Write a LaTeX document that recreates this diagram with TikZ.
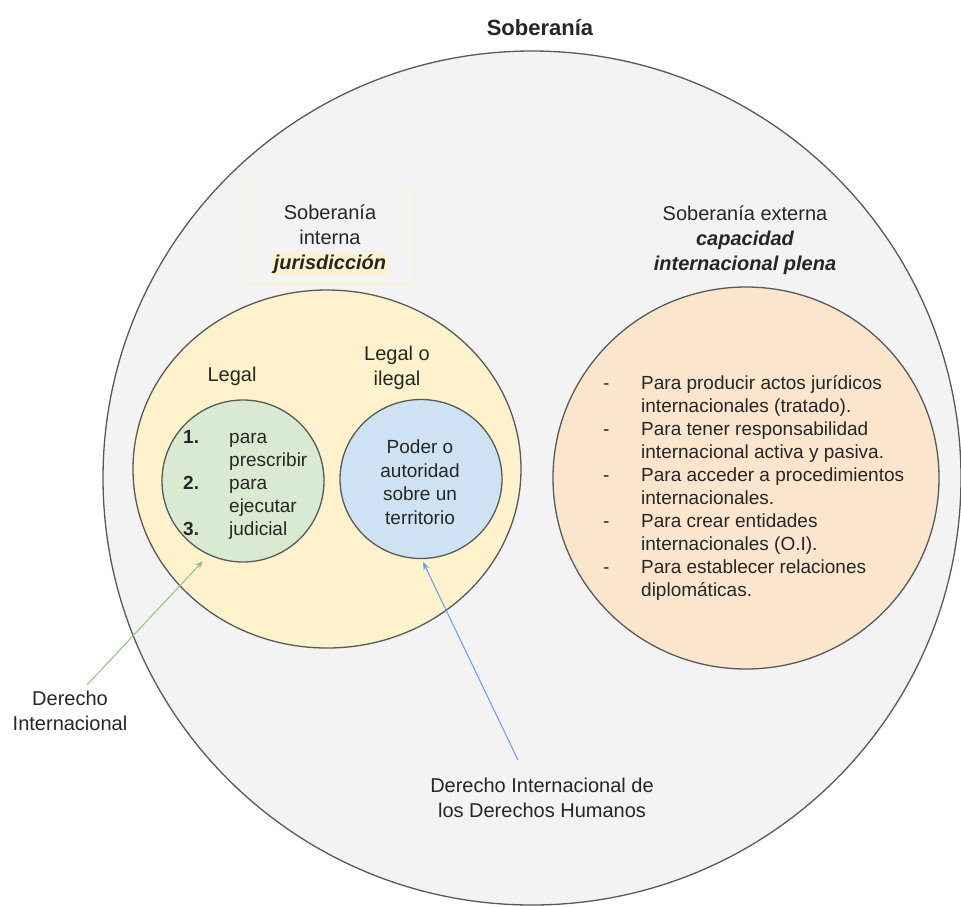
\documentclass[tikz,border=0pt]{standalone}
\usepackage{fontspec}
\setmainfont{Liberation Sans}
\usetikzlibrary{arrows.meta,shapes.geometric}
\definecolor{ringline}{HTML}{595959}
\definecolor{outerfill}{HTML}{F3F3F3}
\definecolor{yellowfill}{HTML}{FFF2CC}
\definecolor{greenfill}{HTML}{D9EAD3}
\definecolor{bluefill}{HTML}{CFE2F3}
\definecolor{orangefill}{HTML}{FCE5CD}
\definecolor{boxline}{HTML}{FBEFCB}
\definecolor{ink}{HTML}{262626}
\definecolor{greenarrow}{HTML}{93C47D}
\definecolor{bluearrow}{HTML}{6D9EEB}
\begin{document}
\begin{tikzpicture}[x=1pt,y=-1pt,
  region/.style={ellipse,draw=ringline,line width=1.3pt,inner sep=0pt},
  label/.style={text=ink,align=center,inner sep=0pt,font=\fontsize{20}{25}\selectfont},
  listtext/.style={text=ink,inner sep=0pt,font=\fontsize{19}{23}\selectfont},
  pointer/.style={line width=1pt,-{Stealth[length=8pt,width=6pt]}}]
\useasboundingbox[fill=white] (0,0) rectangle (961,906);

% title
\node[label,font=\fontsize{22}{26}\selectfont\bfseries] (title) at (540,28) {Soberanía};

% nested regions
\node[region,fill=outerfill,minimum width=858pt,minimum height=854pt] (outer) at (532,478) {};
\node[region,fill=yellowfill,minimum width=388pt,minimum height=358pt] (interna) at (327,469) {};
\node[region,fill=greenfill,minimum width=162pt,minimum height=162pt] (green) at (243,481) {};
\node[region,fill=bluefill,minimum width=162pt,minimum height=159pt] (blue) at (421,479) {};
\node[region,fill=orangefill,minimum width=386pt,minimum height=382pt] (externa) at (746,478) {};

% heading of the internal sovereignty
\node[draw=boxline,line width=1pt,minimum width=170pt,minimum height=99pt] (intbox) at (329,234.5) {};
\node[label] (inttext) at (330,240) {Soberanía\\interna\\{\setlength{\fboxsep}{2pt}\colorbox{yellowfill}{\bfseries\itshape jurisdicción}}};

% heading of the external sovereignty
\node[label] (exttext) at (745,240) {Soberanía externa\\{\bfseries\itshape capacidad}\\{\bfseries\itshape internacional plena}};

% labels inside the internal sovereignty
\node[label] (legal) at (232,376) {Legal};
\node[label] (legalo) at (397,368) {Legal o\\ilegal};

% green list
\node[listtext,anchor=west] (greenlist) at (183,485) {%
  \begin{tabular}{@{}p{46pt}@{}l@{}}
  \textbf{1.} & para\\
              & prescribir\\
  \textbf{2.} & para\\
              & ejecutar\\
  \textbf{3.} & judicial
  \end{tabular}};

% blue text
\node[label,font=\fontsize{19}{23.5}\selectfont] (bluetext) at (420,482) {Poder o\\autoridad\\sobre un\\territorio};

% orange list
\node[listtext,anchor=west] (orangelist) at (603,488) {%
  \begin{tabular}{@{}p{38pt}@{}l@{}}
  - & Para producir actos jurídicos\\
    & internacionales (tratado).\\
  - & Para tener responsabilidad\\
    & internacional activa y pasiva.\\
  - & Para acceder a procedimientos\\
    & internacionales.\\
  - & Para crear entidades\\
    & internacionales (O.I).\\
  - & Para establecer relaciones\\
    & diplomáticas.
  \end{tabular}};

% outside labels
\node[label] (dinter) at (70,711) {Derecho\\Internacional};
\node[label] (didh) at (542,798) {Derecho Internacional de\\los Derechos Humanos};

% pointers
\coordinate (ditail) at (87,685);
\coordinate (didhtail) at (518,760);
\draw[pointer,draw=greenarrow,fill=greenarrow] (ditail) -- (203,561);
\draw[pointer,draw=bluearrow,fill=bluearrow] (didhtail) -- (423,562);
\end{tikzpicture}
\end{document}
